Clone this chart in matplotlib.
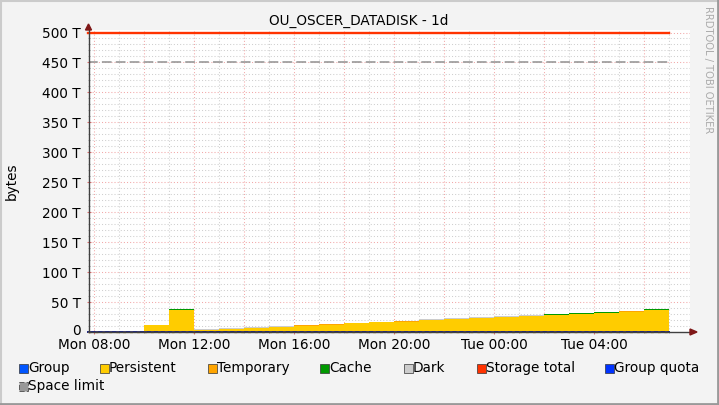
import numpy as np
import matplotlib
matplotlib.use("Agg")
import matplotlib.pyplot as plt
import matplotlib.transforms as mtransforms
from matplotlib.patches import Rectangle, Polygon
from matplotlib.lines import Line2D

plt.rcParams['font.family'] = ['DejaVu Sans']
plt.rcParams['lines.scale_dashes'] = False

# ---------------- data ----------------
title = "OU_OSCER_DATADISK - 1d"
# hourly bin start, hours since Mon 00:00
hours = [10, 11, 12, 13, 14, 15, 16, 17, 18, 19, 20, 21, 22, 23, 24, 25, 26, 27, 28, 29, 30]
persistent = [11.7, 37.2, 3.8, 5.3, 7.0, 8.5, 10.8, 12.2, 14.3, 16.1, 17.2, 19.5, 21.4, 23.7, 25.3, 27.0, 28.8, 30.1, 31.8, 34.0, 37.0]
temporary = [0.0, 0.0, 0.0, 0.0, 0.4, 0.3, 0.5, 0.5, 0.8, 0.8, 0.6, 0.6, 0.5, 0.5, 0.5, 0.5, 0.4, 0.4, 0.4, 0.4, 0.4]
cache = [0.0, 0.8, 0.0, 0.0, 0.0, 0.0, 0.0, 0.0, 0.0, 0.0, 0.0, 0.0, 0.0, 0.0, 0.0, 0.0, 0.8, 0.9, 0.9, 0.9, 0.9]
dark = [0.0, 0.0, 1.2, 1.4, 0.9, 1.2, 0.9, 1.2, 0.5, 0.3, 0.5, 1.0, 0.9, 0.8, 0.9, 0.8, 0.0, 0.3, 0.6, 0.3, 0.0]
storage_total = 500.0
space_limit = 450.0
x_start, x_end, data_end = 7.78, 31.84, 31.0

xtick_pos = [8, 12, 16, 20, 24, 28]
xtick_labels = ["Mon 08:00", "Mon 12:00", "Mon 16:00", "Mon 20:00", "Tue 00:00", "Tue 04:00"]
ytick_pos = [0, 50, 100, 150, 200, 250, 300, 350, 400, 450, 500]
ytick_labels = ["0"] + [f"{v} T" for v in ytick_pos[1:]]

legend_names = ["Group", "Persistent", "Temporary", "Cache", "Dark", "Storage total", "Group quota", "Space limit"]
legend_colors = ["#0055FF", "#FFCC00", "#FFA500", "#009900", "#CCCCCC", "#FF3300", "#0033FF", "#999999"]

# ---------------- figure ----------------
W, H = 719, 405
fig = plt.figure(figsize=(W / 100, H / 100), dpi=100)
fig.patch.set_facecolor("#F3F3F3")

def fx(px):
    return px / W

def fy(py):
    return 1 - py / H

# 3D-ish border
fig.add_artist(Line2D([0, 1], [fy(0.5), fy(0.5)], transform=fig.transFigure, color="#CBCBCB", lw=1.5))
fig.add_artist(Line2D([fx(0.5), fx(0.5)], [0, 1], transform=fig.transFigure, color="#CBCBCB", lw=1.5))
fig.add_artist(Line2D([0, 1], [fy(404), fy(404)], transform=fig.transFigure, color="#999999", lw=2))
fig.add_artist(Line2D([fx(718), fx(718)], [0, 1], transform=fig.transFigure, color="#999999", lw=2))

left_px, right_px, top_px, bot_px = 88.5, 690, 30, 332
ax = fig.add_axes([fx(left_px), fy(bot_px), (right_px - left_px) / W, (bot_px - top_px) / H])
ax.set_facecolor("white")
ax.set_xlim(x_start, x_end)
ymax = 500 * (bot_px - top_px) / (bot_px - 32.5)
ax.set_ylim(0, ymax)
for s in ax.spines.values():
    s.set_visible(False)

# grid
grid_minor = dict(color="#CFCFCF", lw=0.75, dashes=(0.75, 1.5))
grid_major = dict(color="#F2A8A8", lw=0.75, dashes=(0.75, 1.5))
for h in range(8, 32):
    ax.axvline(h, **(grid_major if h % 2 == 0 else grid_minor), zorder=0)
for v in range(10, 510, 10):
    ax.axhline(v, **(grid_major if v % 50 == 0 else grid_minor), zorder=0)

# stacked bars
p = np.array(persistent)
t = np.array(temporary)
c = np.array(cache)
d = np.array(dark)
ax.bar(hours, p, width=1, align="edge", color="#FFCC00", linewidth=0, zorder=2)
ax.bar(hours, t, bottom=p, width=1, align="edge", color="#FFA500", linewidth=0, zorder=2)
ax.bar(hours, c, bottom=p + t, width=1, align="edge", color="#009900", linewidth=0, zorder=2)
ax.bar(hours, d, bottom=p + t + c, width=1, align="edge", color="#CCCCCC", linewidth=0, zorder=2)

# lines
ax.plot([x_start, data_end], [storage_total, storage_total], color="#FF3300", lw=1.7, zorder=3, clip_on=False)
ax.plot([x_start, data_end], [space_limit, space_limit], color="#999999", lw=1.2, dashes=(7, 3), zorder=3)
ax.plot([x_start, data_end], [0, 0], color="#1A237E", lw=1.4, zorder=4, clip_on=False)
ax.plot([x_start, data_end], [0, 0], color="#C89A20", lw=1.0, dashes=(2, 3), zorder=4, clip_on=False)

# ticks
ax.set_xticks(xtick_pos)
ax.set_xticklabels(xtick_labels, fontsize=9.8)
ax.set_xticks(range(8, 32), minor=True)
ax.set_yticks(ytick_pos)
ax.set_yticklabels(ytick_labels, fontsize=9.8)
ax.set_yticks(range(0, 510, 10), minor=True)
ax.tick_params(axis="x", which="major", length=3, color="#E07070", pad=3, direction="inout")
ax.tick_params(axis="x", which="minor", length=2, color="#A0A0A0", direction="inout")
ax.tick_params(axis="y", which="major", length=3, color="#E07070", pad=4, direction="inout")
ax.tick_params(axis="y", which="minor", length=2, color="#A0A0A0", direction="inout")
# nudge the "0" label up slightly so it doesn't collide with "Mon 08:00"
zero_lbl = ax.get_yticklabels()[0]
zero_lbl.set_transform(zero_lbl.get_transform() + mtransforms.ScaledTranslation(0, 2.5 / 100, fig.dpi_scale_trans))

# axes lines with arrows (figure coords)
fig.add_artist(Line2D([fx(left_px), fx(left_px)], [fy(bot_px), fy(28)], transform=fig.transFigure, color="#404040", lw=1.0, zorder=5))
fig.add_artist(Line2D([fx(left_px), fx(692)], [fy(bot_px), fy(bot_px)], transform=fig.transFigure, color="#404040", lw=1.0, zorder=5))
fig.add_artist(Polygon([[fx(85.5), fy(30)], [fx(91.5), fy(30)], [fx(88.5), fy(24)]], closed=True,
                       transform=fig.transFigure, color="#7F1818", zorder=6))
fig.add_artist(Polygon([[fx(690), fy(329)], [fx(690), fy(335)], [fx(697), fy(332)]], closed=True,
                       transform=fig.transFigure, color="#7F1818", zorder=6))

# texts
fig.text(fx(359), fy(21), title, ha="center", va="center", fontsize=9.8)
fig.text(fx(12), fy(181), "bytes", ha="center", va="center", rotation=90, fontsize=9.8)
fig.text(fx(707.5), fy(6), "RRDTOOL / TOBI OETIKER", ha="center", va="top", rotation=270,
         fontsize=7.2, color="#AAAAAA")

# legend
legend_xy = [(19, 368), (100, 368), (208, 368), (320, 368), (404, 368), (477, 368), (605, 368), (19, 386)]
for (lx, ly), name, col in zip(legend_xy, legend_names, legend_colors):
    ls = "--" if name == "Space limit" else "-"
    fig.add_artist(Rectangle((fx(lx), fy(ly + 4.5)), 9 / W, 9 / H, transform=fig.transFigure,
                             facecolor=col, edgecolor="#333333", lw=0.5, linestyle=ls))
    fig.text(fx(lx + 9), fy(ly), name, ha="left", va="center", fontsize=9.8)

fig.savefig("out.png", dpi=100, facecolor=fig.get_facecolor())
